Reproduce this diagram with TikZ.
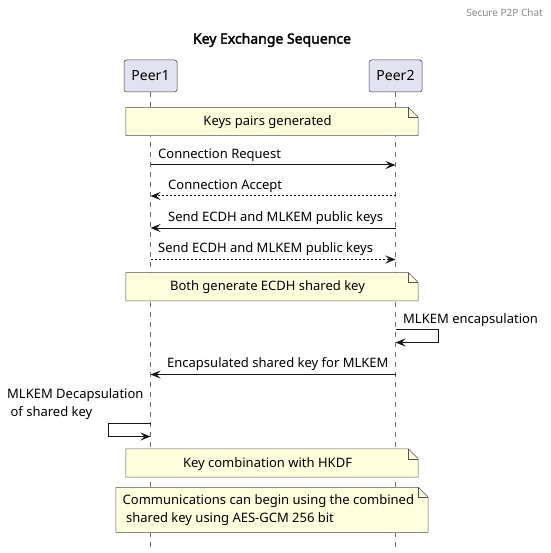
\documentclass[tikz,border=0pt]{standalone}
\usepackage{fontspec}
\setmainfont{Noto Sans}[AutoFakeBold=2.2]
\usetikzlibrary{arrows.meta,backgrounds}
\definecolor{partFill}{RGB}{226,226,240}
\definecolor{noteFill}{RGB}{254,255,221}
\definecolor{lineInk}{RGB}{24,24,24}
\definecolor{headGrey}{RGB}{136,136,136}
\newcommand{\msgfont}{\fontsize{13}{17.5}\selectfont}
% folded-corner outline behind a note node
\newcommand{\noteshape}[1]{%
  \begin{scope}[on background layer]
    \filldraw[notebody] (#1.south west) -- (#1.north west) -- ([xshift=-10pt]#1.north east)
      -- ([yshift=-10pt]#1.north east) -- (#1.south east) -- cycle;
    \draw[notebody,fill=none] ([xshift=-10pt]#1.north east) |- ([yshift=-10pt]#1.north east);
  \end{scope}}

\begin{document}
\begin{tikzpicture}[x=1pt,y=-1pt,
    >={Stealth[length=10pt,width=8pt,inset=4pt]},
    part/.style={rectangle,rounded corners=2.5pt,draw=lineInk!85,line width=0.5pt,fill=partFill,
                 minimum width=53pt,minimum height=32pt,inner sep=0pt,font=\fontsize{14}{17}\selectfont},
    life/.style={draw=lineInk!60,line width=0.5pt,dash pattern=on 5pt off 5pt},
    msg/.style={->,lineInk,line width=1pt},
    rsp/.style={msg,dash pattern=on 2pt off 2pt},
    lbl/.style={anchor=west,inner sep=0pt,font=\msgfont,align=left},
    note/.style={rectangle,inner sep=0pt,minimum width=292pt,minimum height=28pt},
    notebody/.style={fill=noteFill,draw=lineInk!75,line width=0.5pt},
    ntxt/.style={inner sep=0pt,font=\msgfont,align=left}]

    \useasboundingbox (0,0) rectangle (550,553);

    % ---------- header and title ----------
    \node[anchor=east,inner sep=0pt,text=headGrey,font=\fontsize{10}{12}\selectfont] (hdr) at (543,13) {Secure P2P Chat};
    \node[inner sep=0pt,font=\fontsize{14}{17}\selectfont\bfseries] (ttl) at (272,40) {Key Exchange Sequence};

    % ---------- participants and lifelines ----------
    \node[part] (p1) at (150.5,76) {Peer1};
    \node[part] (p2) at (395.5,76) {Peer2};
    \coordinate (bot) at (0,547);
    \begin{scope}[on background layer]
      \foreach \p in {p1,p2} \draw[life] (\p.south) -- (\p |- bot);
    \end{scope}

    % ---------- key generation ----------
    \node[note] (n1) at (272,121.5) {};
    \noteshape{n1}
    \node[ntxt] (t1) at (267.5,122.5) {Keys pairs generated};

    % ---------- public key exchange ----------
    \coordinate (r1) at (0,165);
    \coordinate (r2) at (0,196);
    \coordinate (r3) at (0,228);
    \coordinate (r4) at (0,259.5);
    \draw[msg] (p1 |- r1) -- (p2 |- r1);
    \draw[rsp] (p2 |- r2) -- (p1 |- r2);
    \draw[msg] (p2 |- r3) -- (p1 |- r3);
    \draw[rsp] (p1 |- r4) -- (p2 |- r4);
    \node[lbl] (m1) at (158,155)   {Connection Request};
    \node[lbl] (m2) at (168,186.5) {Connection Accept};
    \node[lbl] (m3) at (168,218.5) {Send ECDH and MLKEM public keys};
    \node[lbl] (m4) at (158,249.5) {Send ECDH and MLKEM public keys};

    \node[note] (n2) at (272,286.7) {};
    \noteshape{n2}
    \node[ntxt] (t2) at (267.5,287) {Both generate ECDH shared key};

    % ---------- MLKEM ----------
    \coordinate (s2a) at (0,329.5);
    \coordinate (s2b) at (0,342.5);
    \draw[msg] (p2 |- s2a) -| ++(43,13) -- (p2 |- s2b);
    \node[lbl] (m5) at (403,320) {MLKEM encapsulation};

    \coordinate (r5) at (0,374.5);
    \draw[msg] (p2 |- r5) -- (p1 |- r5);
    \node[lbl] (m6) at (167,364.5) {Encapsulated shared key for MLKEM};

    \coordinate (s1a) at (0,423.5);
    \coordinate (s1b) at (0,436.5);
    \draw[msg] (p1 |- s1a) -| ++(-42,13) -- (p1 |- s1b);
    \node[lbl] (m7) at (7,404) {MLKEM Decapsulation\\\ of shared key};

    % ---------- key combination ----------
    \node[note] (n3) at (272,463) {};
    \noteshape{n3}
    \node[ntxt] (t3) at (267.5,464) {Key combination with HKDF};

    \node[note,minimum width=312pt,minimum height=45pt] (n4) at (272,510) {};
    \noteshape{n4}
    \node[ntxt,anchor=west] (t4) at (122.5,510) {Communications can begin using the combined\\\ shared key using AES-GCM 256 bit};
\end{tikzpicture}
\end{document}
